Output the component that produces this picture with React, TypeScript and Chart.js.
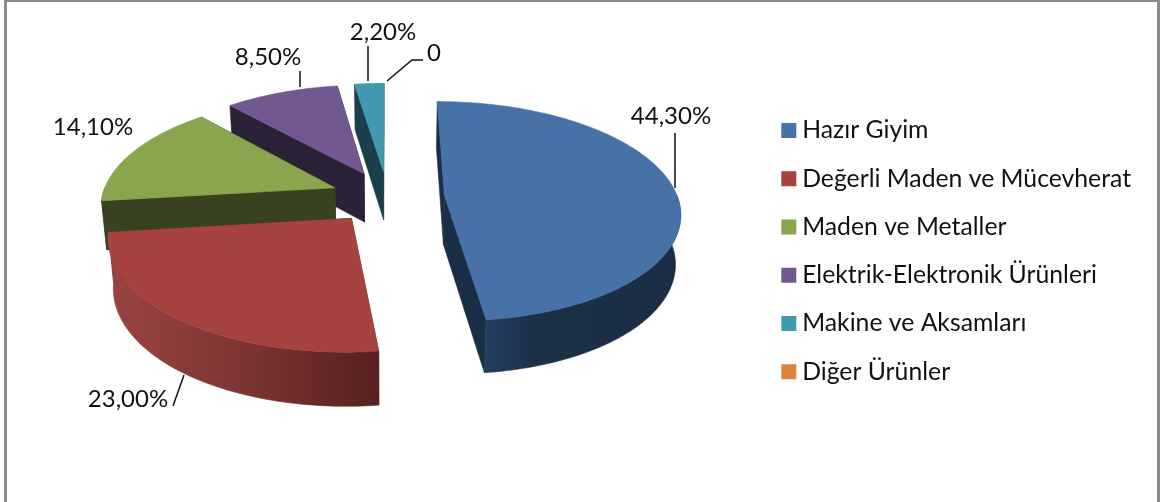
import React, { useEffect, useRef } from "react";
import { Chart, registerables } from "chart.js";

Chart.register(...registerables);

const categories = ["Hazır Giyim", "Değerli Maden ve Mücevherat", "Maden ve Metaller", "Elektrik-Elektronik Ürünleri", "Makine ve Aksamları", "Diğer Ürünler"];
const shares = [44.3, 23.0, 14.1, 8.5, 2.2, 0];
const shareLabels = ["44,30%", "23,00%", "14,10%", "8,50%", "2,20%", "0"];
const topColors = ["#4672a8", "#a64341", "#89a54e", "#71588f", "#4198af", "#db843d"];
const cutColors = ["#1a2e47", "#562120", "#384220", "#2b2237", "#1b3f4a", "#7a4820"];
const wallStops = [
  [["#253f61", 0], ["#1c3048", 0.25], ["#1a2d45", 1]],
  [["#9a4442", 0], ["#7d3533", 0.5], ["#552120", 1]],
  [["#384220", 0], ["#384220", 1]],
  [["#2b2237", 0], ["#2b2237", 1]],
  [["#1b3f4a", 0], ["#1b3f4a", 1]],
  [["#7a4820", 0], ["#7a4820", 1]],
];
const paintOrder = [4, 3, 2, 0, 1];

const FONT = "Lato, 'Open Sans', sans-serif";
const LEGEND_SIZE = 24.75;
const LABEL_SIZE = 24;
const RADIUS = 233;
const EXPLODE = 57;
const LIFT = 54;
const TILT = 0.4626;
const PERSPECTIVE = 0.144;
const DEPTH = 49;

// label centre, then leader-line vertices
const labelLayout: [number, number, number[][]][] = [
  [671, 116, [[675, 133], [675, 188]]],
  [128, 399, [[173, 406], [184, 375]]],
  [93, 127, []],
  [268, 57, [[300, 71], [300, 87]]],
  [383, 32, [[368, 46], [368, 81]]],
  [434, 53, [[387, 81], [412, 60], [423, 60]]],
];

const pie3d = {
  id: "pie3d",
  beforeDraw(chart: any) {
    const { ctx } = chart;
    ctx.save();
    ctx.fillStyle = "#ffffff";
    ctx.fillRect(0, 0, chart.width, chart.height);
    ctx.fillStyle = "#8c8c8c";
    ctx.fillRect(4, 0, 1156, 2);
    ctx.fillRect(4, 0, 3, chart.height);
    ctx.fillRect(1157, 0, 3, chart.height);
    ctx.restore();
  },
  beforeDatasetsDraw(chart: any) {
    const { ctx } = chart;
    const arcs = chart.getDatasetMeta(0).data;
    const cx = arcs[0].x;
    const cy = arcs[0].y - LIFT;
    const R = arcs[0].outerRadius;
    const top = (X: number, Y: number) => {
      const s = 1 / (1 - (PERSPECTIVE * Y) / R);
      return [cx + X * s, cy + Y * TILT * s];
    };
    const low = (X: number, Y: number) => {
      const s = 1 / (1 - (PERSPECTIVE * Y) / R);
      return [cx + X * s * 0.982, cy + Y * TILT * s + DEPTH * (0.5 + 0.5 * s)];
    };
    const poly = (pts: number[][], fill: any) => {
      ctx.beginPath();
      pts.forEach((p, i) => (i ? ctx.lineTo(p[0], p[1]) : ctx.moveTo(p[0], p[1])));
      ctx.closePath();
      ctx.fillStyle = fill;
      ctx.fill();
      ctx.strokeStyle = fill;
      ctx.lineWidth = 0.6;
      ctx.stroke();
    };
    ctx.save();
    for (const i of paintOrder) {
      const arc = arcs[i];
      const a0 = arc.startAngle + Math.PI / 2;
      const a1 = arc.endAngle + Math.PI / 2;
      if (a1 - a0 < 1e-4) continue;
      const mid = (a0 + a1) / 2;
      const e = arc.options.offset;
      const ox = Math.sin(mid) * e;
      const oy = -Math.cos(mid) * e;
      const edge = (t: number, f: (X: number, Y: number) => number[]) =>
        f(ox + Math.sin(t) * R, oy - Math.cos(t) * R);
      const sweep = (from: number, to: number, f: (X: number, Y: number) => number[]) => {
        const n = Math.max(2, Math.ceil((to - from) / 0.02));
        const out: number[][] = [];
        for (let k = 0; k <= n; k++) out.push(edge(from + ((to - from) * k) / n, f));
        return out;
      };
      const apexT = top(ox, oy);
      const apexL = low(ox, oy);
      for (const t of [a1, a0]) {
        poly([apexT, edge(t, top), edge(t, low), apexL], cutColors[i]);
      }
      const w0 = Math.max(a0, Math.PI / 2);
      const w1 = Math.min(a1, (3 * Math.PI) / 2);
      if (w1 > w0) {
        const upper = sweep(w0, w1, top);
        const lower = sweep(w0, w1, low).reverse();
        const xs = upper.concat(lower).map((p) => p[0]);
        const g = ctx.createLinearGradient(Math.min(...xs), 0, Math.max(...xs), 0);
        (wallStops[i] as [string, number][]).forEach(([c, p]) => g.addColorStop(p, c));
        poly(upper.concat(lower), g);
      }
      poly([apexT, ...sweep(a0, a1, top)], topColors[i]);
    }
    ctx.font = `${LABEL_SIZE}px ${FONT}`;
    ctx.fillStyle = "#111111";
    ctx.textAlign = "center";
    ctx.textBaseline = "middle";
    ctx.strokeStyle = "#111111";
    ctx.lineWidth = 1.5;
    labelLayout.forEach(([x, y, line], i) => {
      ctx.fillText(shareLabels[i], x, y);
      if (line.length) {
        ctx.beginPath();
        line.forEach((p, k) => (k ? ctx.lineTo(p[0], p[1]) : ctx.moveTo(p[0], p[1])));
        ctx.stroke();
      }
    });
    ctx.restore();
    return false;
  },
};

export default function App() {
  const ref = useRef<HTMLCanvasElement>(null);
  useEffect(() => {
    const chart = new Chart(ref.current as HTMLCanvasElement, {
      type: "pie",
      data: {
        labels: categories,
        datasets: [{ data: shares, backgroundColor: topColors, borderWidth: 0, offset: EXPLODE }],
      },
      options: {
        responsive: false,
        animation: false,
        devicePixelRatio: 1,
        radius: RADIUS,
        layout: { padding: { left: 11, right: 21 } },
        plugins: {
          tooltip: { enabled: false },
          legend: {
            position: "right",
            labels: {
              color: "#111111",
              font: { family: FONT, size: LEGEND_SIZE },
              boxWidth: 2,
              boxHeight: 2,
              padding: 23.5,
              generateLabels: (c: any) =>
                c.data.labels.map((text: string, i: number) => ({
                  text,
                  index: i,
                  fillStyle: topColors[i],
                  strokeStyle: topColors[i],
                  lineWidth: 13,
                  fontColor: "#111111",
                })),
            },
          },
        },
      },
      plugins: [pie3d],
    } as any);
    return () => chart.destroy();
  }, []);
  return (
    <div style={{ position: "absolute", left: 0, top: 0, width: 1162, height: 502 }}>
      <canvas ref={ref} width={1162} height={502} style={{ display: "block" }} />
    </div>
  );
}
